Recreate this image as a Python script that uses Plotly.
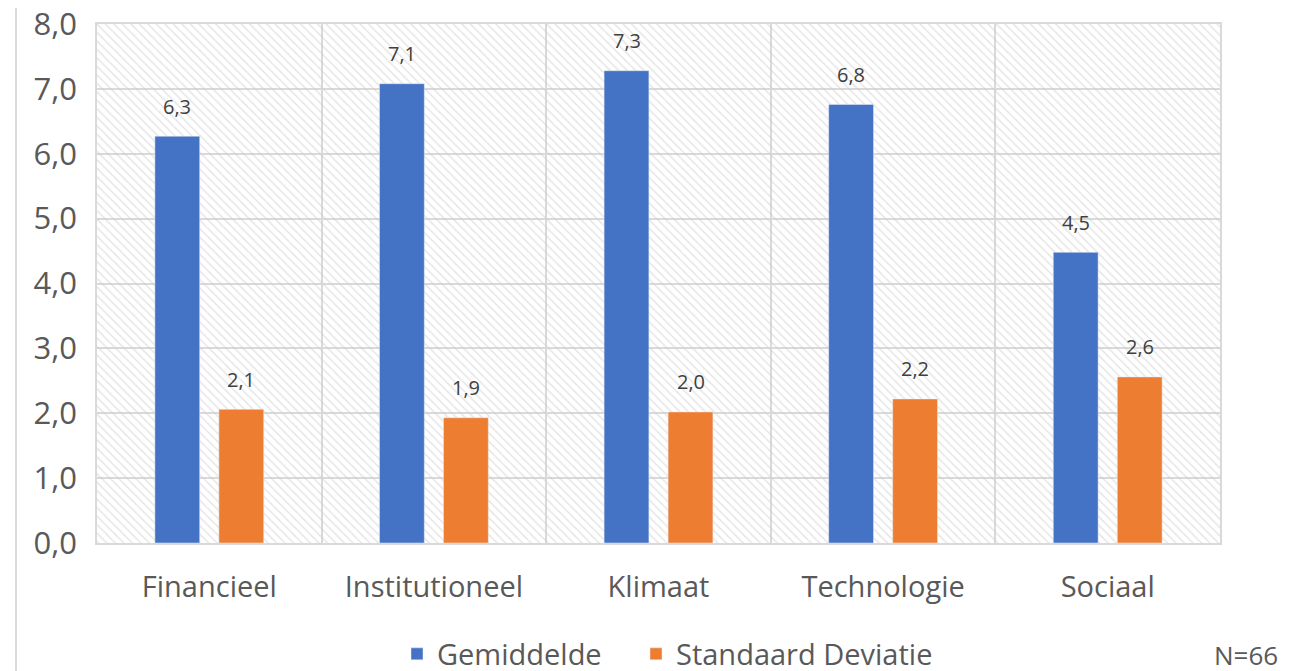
import plotly.graph_objects as go

categories = ["Financieel", "Institutioneel", "Klimaat", "Technologie", "Sociaal"]
gemiddelde = [6.27, 7.08, 7.28, 6.76, 4.48]
std_dev = [2.06, 1.93, 2.02, 2.22, 2.56]
y_ticks = [0, 1, 2, 3, 4, 5, 6, 7, 8]

FONT = "Open Sans"
TXT = "#595959"
GRID = "#d9d9d9"
BLUE = "#4472C4"
ORANGE = "#ED7D31"

fig = go.Figure()

# hatched plot-area background (base axes, drawn below bars)
fig.add_trace(go.Scatter(
    x=[0, 1, 1, 0, 0], y=[0, 0, 1, 1, 0], xaxis="x", yaxis="y",
    mode="none", fill="toself", fillcolor="rgba(0,0,0,0)",
    fillpattern=dict(shape="\\", size=6, solidity=0.25, fgcolor="#cccccc",
                     bgcolor="rgba(0,0,0,0)", fillmode="overlay"),
    showlegend=False, hoverinfo="skip"))

fig.add_trace(go.Bar(name="Gemiddelde", x=categories, y=gemiddelde,
                     marker_color=BLUE, xaxis="x2", yaxis="y2", legend="legend"))
fig.add_trace(go.Bar(name="Standaard Deviatie", x=categories, y=std_dev,
                     marker_color=ORANGE, xaxis="x2", yaxis="y2", legend="legend2"))

annotations = []
for series, shift in ((gemiddelde, -32), (std_dev, 32)):
    for c, v in zip(categories, series):
        annotations.append(dict(
            x=c, y=v, xref="x2", yref="y2", xshift=shift, yshift=30,
            text=f"{v:.1f}".replace(".", ","), showarrow=False,
            font=dict(family=FONT, size=20, color="#404040")))
annotations.append(dict(x=(1246 - 97) / 1123, y=(543 - 655) / 519,
                        xref="paper", yref="paper", xanchor="center", yanchor="middle",
                        text="N=66", showarrow=False,
                        font=dict(family=FONT, size=26, color="#595959")))

legend_common = dict(orientation="h", xanchor="left", yanchor="middle",
                     y=(543 - 654) / 519, itemwidth=30,
                     font=dict(family=FONT, size=29, color=TXT))

fig.update_layout(
    width=1293, height=671,
    margin=dict(l=89, r=81, t=16, b=136, autoexpand=False),
    paper_bgcolor="white", plot_bgcolor="white",
    separators=",.",
    barmode="group", bargap=0.43, bargroupgap=0.3,
    font=dict(family=FONT, color=TXT),
    xaxis=dict(range=[0, 1], visible=False, fixedrange=True),
    yaxis=dict(range=[0, 1], visible=False, fixedrange=True),
    xaxis2=dict(overlaying="x", anchor="y2", type="category",
                tickson="boundaries", showgrid=True, gridcolor=GRID, gridwidth=1.5,
                showline=True, linecolor=GRID, linewidth=1.5, mirror=True,
                ticks="", ticklabelstandoff=17, automargin=False,
                tickfont=dict(family=FONT, size=29, color=TXT)),
    yaxis2=dict(overlaying="y", anchor="x2", range=[0, 8],
                tickvals=y_ticks, tickformat=".1f", automargin=False,
                ticklabeloverflow="allow",
                showgrid=True, gridcolor=GRID, gridwidth=1.5,
                showline=True, linecolor=GRID, linewidth=1.5, mirror=True,
                zeroline=False, ticks="", ticklabelstandoff=12,
                tickfont=dict(family=FONT, size=31, color=TXT)),
    legend=dict(x=(397 - 97) / 1123, **legend_common),
    legend2=dict(x=(636 - 97) / 1123, **legend_common),
    annotations=annotations,
    shapes=[dict(type="line", xref="paper", yref="paper",
                 x0=-81/1123, x1=-81/1123, y0=-0.3, y1=1.1,
                 line=dict(color="#d9d9d9", width=2))],
)

fig.write_html("out.html")
